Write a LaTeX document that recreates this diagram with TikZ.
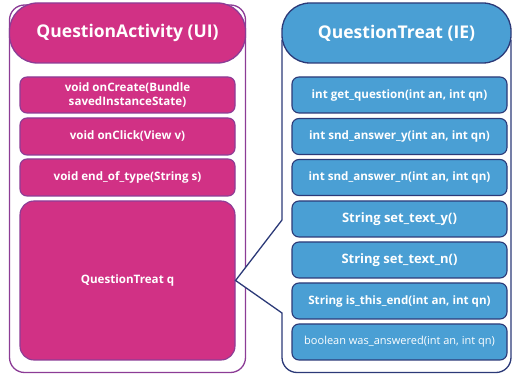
\documentclass[tikz,border=0pt]{standalone}
\usepackage{fontspec}
\setsansfont{Open Sans}
\usepackage{xcolor}
\usepackage{tikz}
\usetikzlibrary{arrows.meta,positioning,calc}

\definecolor{uipink}{RGB}{209,49,133}
\definecolor{uiline}{RGB}{140,60,150}
\definecolor{ieblue}{RGB}{74,159,212}
\definecolor{ieline}{RGB}{44,58,120}

\begin{document}
\begin{tikzpicture}[x=1pt,y=-1pt,
  head/.style={rounded corners=28pt,text=white,line width=1.3pt,
    minimum height=60pt,font=\sffamily\bfseries\fontsize{17.5}{20}\selectfont},
  uihead/.style={head,fill=uipink,draw=uiline,minimum width=236pt},
  iehead/.style={head,fill=ieblue,draw=ieline,minimum width=229pt},
  mbox/.style={rounded corners=7pt,text=white,line width=1.1pt,
    minimum width=215pt,minimum height=36pt,align=center,inner sep=2pt,
    font=\sffamily\bfseries\fontsize{11.6}{13}\selectfont},
  uibox/.style={mbox,fill=uipink,draw=uiline},
  iebox/.style={mbox,fill=ieblue,draw=ieline}
]
\useasboundingbox (0,0) rectangle (512,374);

% left container (UI)
\draw[uiline,line width=1.3pt,fill=white,rounded corners=15pt] (9.5,5) rectangle (245.5,372.5);
\node[uihead] (uihd) at (127.5,33) {QuestionActivity (UI)};
\node[uibox] (oncreate) at (127.5,95) {void onCreate(Bundle\\[1.5pt]savedInstanceState)};
\node[uibox,minimum height=37pt] (onclick) at (127.5,136.5) {void onClick(View v)};
\node[uibox,minimum height=37pt] (endtype) at (127.5,177.5) {void end\_of\_type(String s)};
\node[uibox,minimum height=159pt,rounded corners=14pt] (qtq) at (127.5,280.5) {QuestionTreat q};

% right container (IE), a callout pointing at qtq
\draw[ieline,line width=1.3pt,fill=white]
  (282,40) -- (282,220) -- (qtq.east) -- (282,313)
  [rounded corners=15pt] -- (282,372.5) -- (511,372.5) -- (511,40);
\node[iehead] (iehd) at (396.5,33) {QuestionTreat (IE)};
\node[iebox] (getq) at (399.5,95) {int get\_question(int an, int qn)};
\node[iebox] (sndy) at (399.5,136.5) {int snd\_answer\_y(int an, int qn)};
\node[iebox] (sndn) at (399.5,177.5) {int snd\_answer\_n(int an, int qn)};
\node[iebox,font=\sffamily\bfseries\fontsize{13}{15}\selectfont] (settxy) at (399.5,219) {String set\_text\_y()};
\node[iebox,font=\sffamily\bfseries\fontsize{13}{15}\selectfont] (settxn) at (399.5,260) {String set\_text\_n()};
\node[iebox] (isend) at (399.5,301) {String is\_this\_end(int an, int qn)};
\node[iebox,font=\sffamily\fontsize{11}{13}\selectfont] (wasans) at (399.5,342) {boolean was\_answered(int an, int qn)};
\end{tikzpicture}
\end{document}
